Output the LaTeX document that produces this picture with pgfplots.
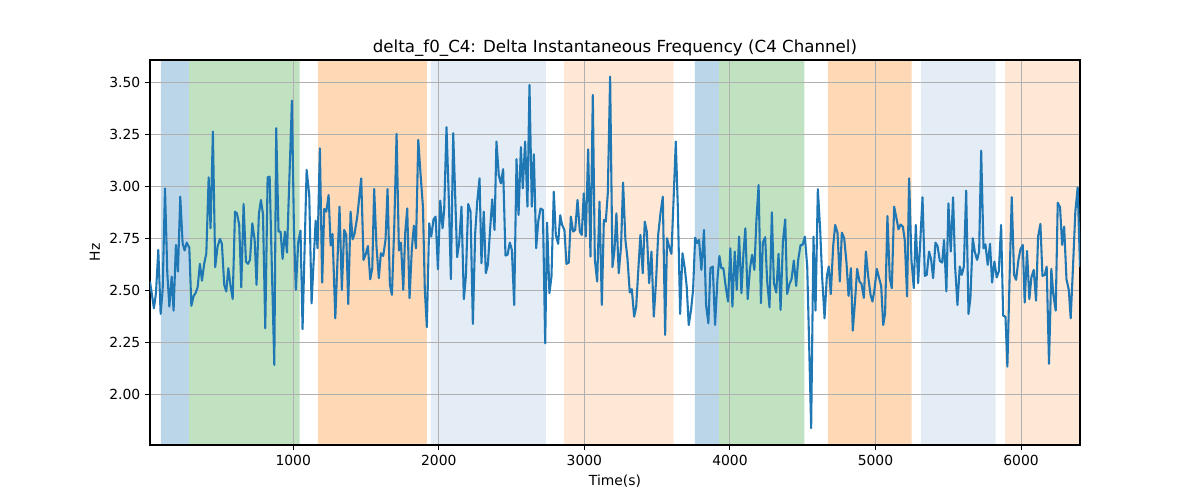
\documentclass[border=0pt]{standalone}
\usepackage{fontspec}
\setmainfont{DejaVu Sans}
\usepackage{pgfplots}
\pgfplotsset{compat=1.18}
\definecolor{tabblue}{RGB}{31,119,180}
\definecolor{gridgray}{RGB}{176,176,176}
\definecolor{spanblue}{RGB}{188,214,233}
\definecolor{spangreen}{RGB}{192,226,192}
\definecolor{spanorange}{RGB}{255,216,182}
\definecolor{spanlblue}{RGB}{228,236,246}
\definecolor{spanlorange}{RGB}{255,233,214}
\pgfplotstableread{
x y
16 2.542
43 2.413
57 2.486
73 2.694
89 2.386
103 2.502
119 2.990
135 2.582
149 2.421
165 2.566
178 2.402
194 2.718
208 2.590
224 2.950
240 2.726
254 2.691
268 2.729
286 2.705
300 2.425
316 2.473
329 2.486
343 2.514
359 2.627
373 2.546
389 2.630
403 2.678
419 3.043
432 2.798
448 3.263
464 2.611
480 2.710
497 2.747
510 2.723
526 2.526
540 2.494
554 2.606
570 2.518
584 2.458
600 2.878
613 2.870
629 2.814
643 2.514
659 2.915
675 2.638
689 2.627
703 2.646
719 2.822
735 2.742
748 2.526
764 2.867
778 2.934
792 2.867
808 2.317
824 3.043
838 3.046
854 2.582
870 2.141
883 3.279
899 2.782
913 2.782
927 2.651
943 2.782
957 2.681
991 3.412
1005 2.790
1018 2.502
1034 2.729
1050 2.787
1064 2.313
1092 3.079
1110 2.958
1126 2.437
1154 2.835
1167 2.702
1183 3.183
1199 2.537
1213 2.891
1227 2.878
1243 2.958
1257 2.715
1270 2.771
1289 2.365
1318 2.902
1334 2.502
1350 2.790
1364 2.766
1378 2.434
1394 2.878
1408 2.745
1421 2.771
1440 2.854
1453 2.942
1467 3.038
1483 2.646
1499 2.675
1513 2.713
1529 2.553
1543 2.606
1556 2.987
1572 2.710
1588 2.558
1602 2.678
1618 2.665
1634 2.742
1648 2.987
1664 2.526
1678 2.478
1694 2.806
1710 3.252
1726 2.691
1740 2.729
1756 2.502
1769 2.774
1783 2.893
1799 2.462
1815 2.702
1829 2.811
1843 2.702
1859 3.223
1875 3.054
1891 2.902
1904 2.502
1918 2.322
1934 2.822
1948 2.758
1964 2.841
1978 2.854
1994 2.601
2010 2.931
2026 2.798
2037 2.886
2053 3.284
2069 2.934
2083 2.553
2099 3.255
2126 2.659
2140 2.729
2156 2.902
2172 2.457
2186 2.566
2202 2.915
2218 2.878
2234 2.338
2250 2.774
2264 2.926
2280 3.038
2293 2.630
2309 2.878
2323 2.582
2337 2.622
2353 2.798
2367 2.937
2383 2.790
2396 3.215
2412 3.054
2426 3.014
2442 3.082
2458 2.667
2472 2.670
2488 2.729
2502 2.694
2518 2.429
2534 3.130
2548 2.862
2564 3.188
2577 2.990
2593 3.215
2609 2.902
2623 3.487
2639 2.902
2653 3.154
2669 2.702
2683 2.830
2699 2.893
2715 2.886
2731 2.245
2744 2.825
2760 2.486
2774 2.566
2790 2.974
2804 2.766
2820 2.723
2834 2.861
2847 2.814
2863 2.790
2877 2.627
2893 2.633
2907 2.854
2923 2.782
2937 2.790
2953 2.934
2969 2.782
2982 2.766
2996 2.966
3010 2.758
3026 3.178
3042 2.662
3058 3.439
3072 2.646
3088 2.542
3104 2.926
3120 2.429
3134 2.838
3147 2.830
3161 2.966
3177 3.527
3193 2.611
3207 2.694
3220 2.870
3236 2.582
3252 2.710
3266 3.018
3282 2.742
3296 2.654
3312 2.489
3326 2.505
3342 2.373
3356 2.421
3372 2.614
3385 2.766
3401 2.582
3415 2.830
3429 2.782
3445 2.534
3461 2.686
3477 2.373
3493 2.550
3507 2.766
3523 2.870
3539 2.950
3555 2.285
3568 2.750
3582 2.710
3598 2.675
3612 2.918
3628 3.215
3642 2.902
3658 2.386
3674 2.678
3690 2.606
3703 2.518
3717 2.333
3733 2.405
3747 2.502
3761 2.753
3774 2.726
3788 2.742
3804 2.598
3822 2.790
3836 2.429
3852 2.341
3866 2.606
3882 2.614
3898 2.333
3914 2.550
3928 2.665
3941 2.606
3955 2.606
3971 2.518
3987 2.446
4003 2.702
4017 2.421
4033 2.686
4047 2.502
4063 2.758
4079 2.486
4093 2.678
4106 2.798
4122 2.457
4138 2.606
4152 2.670
4168 2.598
4182 2.838
4197 3.006
4213 2.438
4226 2.729
4242 2.755
4256 2.542
4272 2.418
4288 2.875
4302 2.534
4318 2.489
4334 2.675
4348 2.405
4364 2.734
4380 2.841
4393 2.482
4409 2.530
4423 2.553
4439 2.643
4455 2.521
4469 2.646
4485 2.717
4499 2.718
4515 2.758
4531 2.614
4544 2.245
4558 1.837
4574 2.758
4588 2.402
4604 2.986
4620 2.790
4634 2.558
4650 2.365
4666 2.569
4679 2.614
4693 2.482
4709 2.710
4723 2.814
4739 2.777
4755 2.542
4769 2.777
4785 2.750
4801 2.630
4815 2.473
4831 2.606
4844 2.306
4860 2.454
4874 2.603
4890 2.542
4904 2.530
4920 2.463
4934 2.686
4950 2.566
4966 2.478
4979 2.446
4993 2.502
5009 2.603
5025 2.558
5039 2.521
5053 2.333
5066 2.389
5082 2.857
5098 2.558
5112 2.510
5128 2.902
5142 2.854
5158 2.793
5172 2.816
5188 2.806
5201 2.742
5217 2.470
5231 3.038
5247 2.646
5263 2.510
5277 2.814
5293 2.534
5323 2.947
5339 2.569
5352 2.574
5368 2.686
5382 2.649
5396 2.558
5412 2.729
5426 2.713
5442 2.641
5458 2.633
5471 2.742
5487 2.494
5501 2.918
5517 2.686
5533 2.947
5547 2.614
5563 2.429
5579 2.614
5593 2.574
5607 2.614
5623 2.979
5639 2.386
5652 2.462
5668 2.750
5682 2.686
5698 2.646
5712 2.686
5726 3.171
5742 2.702
5755 2.721
5771 2.622
5787 2.723
5801 2.537
5817 2.638
5833 2.562
5847 2.590
5863 2.814
5877 2.378
5893 2.373
5906 2.133
5922 2.582
5936 2.947
5952 2.574
5966 2.550
5982 2.646
5996 2.697
6012 2.718
6025 2.441
6041 2.689
6057 2.457
6071 2.562
6087 2.598
6103 2.450
6117 2.758
6133 2.819
6147 2.569
6163 2.574
6176 2.614
6192 2.146
6208 2.603
6222 2.478
6238 2.402
6252 2.921
6268 2.899
6282 2.718
6296 2.806
6312 2.553
6328 2.502
6341 2.365
6357 2.614
6373 2.878
6389 2.995
6405 2.611
}\signal
\pgfplotsset{
  myframe/.style={
    at={(0,0)}, anchor=south west, scale only axis,
    width=669.6pt, height=277.2pt,
    xmin=16, xmax=6405, ymin=1.756, ymax=3.607,
  }
}
\begin{document}
\begin{tikzpicture}
\path[use as bounding box] (-108pt,-39.6pt) rectangle (756pt,320.4pt);
\begin{axis}[myframe, hide axis]
\addplot[fill=spanblue, draw=none] coordinates {(91,1.7)(91,3.7)(284,3.7)(284,1.7)(91,1.7)};
\addplot[fill=spangreen, draw=none] coordinates {(284,1.7)(284,3.7)(1044,3.7)(1044,1.7)(284,1.7)};
\addplot[fill=spanorange, draw=none] coordinates {(1170,1.7)(1170,3.7)(1918,3.7)(1918,1.7)(1170,1.7)};
\addplot[fill=spanlblue, draw=none] coordinates {(1946,1.7)(1946,3.7)(2735,3.7)(2735,1.7)(1946,1.7)};
\addplot[fill=spanlorange, draw=none] coordinates {(2859,1.7)(2859,3.7)(3613,3.7)(3613,1.7)(2859,1.7)};
\addplot[fill=spanblue, draw=none] coordinates {(3759,1.7)(3759,3.7)(3926,3.7)(3926,1.7)(3759,1.7)};
\addplot[fill=spangreen, draw=none] coordinates {(3926,1.7)(3926,3.7)(4512,3.7)(4512,1.7)(3926,1.7)};
\addplot[fill=spanorange, draw=none] coordinates {(4672,1.7)(4672,3.7)(5249,3.7)(5249,1.7)(4672,1.7)};
\addplot[fill=spanlblue, draw=none] coordinates {(5311,1.7)(5311,3.7)(5826,3.7)(5826,1.7)(5311,1.7)};
\addplot[fill=spanlorange, draw=none] coordinates {(5890,1.7)(5890,3.7)(6405,3.7)(6405,1.7)(5890,1.7)};
\end{axis}
\begin{axis}[myframe,
  xtick={1000,2000,3000,4000,5000,6000},
  ytick={2,2.25,2.5,2.75,3,3.25,3.5},
  grid=major, grid style={color=gridgray, line width=0.8pt},
  axis line style={line width=0.8pt},
  tick style={black, line width=0.8pt}, tick align=outside,
  major tick length=3.5pt, tick pos=left,
  ticklabel style={font=\fontsize{10}{12}\selectfont},
  /pgf/number format/assume math mode=true,
  xticklabel style={/pgf/number format/1000 sep={}},
  yticklabel style={/pgf/number format/.cd,fixed,fixed zerofill,precision=2},
  title={delta\_f0\_C4: Delta Instantaneous Frequency (C4 Channel)},
  title style={font=\fontsize{12}{14}\selectfont, yshift=-7pt},
  xlabel={Time(s)}, ylabel={Hz},
  label style={font=\fontsize{10}{12}\selectfont},
]
\addplot[color=tabblue, line width=1.5pt, line join=round, mark=none] table[x=x,y=y] {\signal};
\end{axis}
\end{tikzpicture}
\end{document}
